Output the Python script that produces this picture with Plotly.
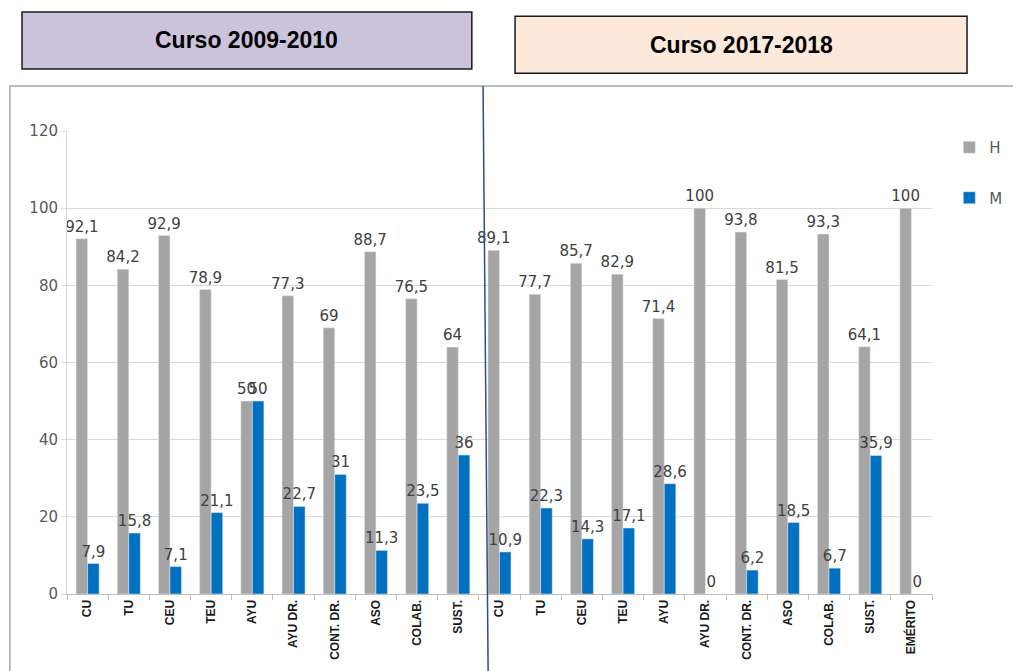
import plotly.graph_objects as go

categorias = ["CU", "TU", "CEU", "TEU", "AYU", "AYU DR.", "CONT. DR.", "ASO", "COLAB.", "SUST.",
              "CU", "TU", "CEU", "TEU", "AYU", "AYU DR.", "CONT. DR.", "ASO", "COLAB.", "SUST.", "EMÉRITO"]
hombres = [92.1, 84.2, 92.9, 78.9, 50, 77.3, 69, 88.7, 76.5, 64,
           89.1, 77.7, 85.7, 82.9, 71.4, 100, 93.8, 81.5, 93.3, 64.1, 100]
mujeres = [7.9, 15.8, 7.1, 21.1, 50, 22.7, 31, 11.3, 23.5, 36,
           10.9, 22.3, 14.3, 17.1, 28.6, 0, 6.2, 18.5, 6.7, 35.9, 0]
cursos = ["Curso 2009-2010", "Curso 2017-2018"]

posiciones = list(range(len(categorias)))


def etiqueta(v):
    return f"{v:g}".replace(".", ",")


fig = go.Figure()
fig.add_trace(go.Bar(x=posiciones, y=hombres, name="H", marker_color="#A5A5A5",
                     text=[etiqueta(v) for v in hombres], textposition="outside",
                     constraintext="none", cliponaxis=False, legendgroup="H",
                     textfont=dict(family="DejaVu Sans", size=15, color="#404040")))
fig.add_trace(go.Bar(x=posiciones, y=mujeres, name="M", marker_color="#0070C0",
                     text=[etiqueta(v) for v in mujeres], textposition="outside",
                     constraintext="none", cliponaxis=False, legendgroup="M",
                     textfont=dict(family="DejaVu Sans", size=15, color="#404040")))

# la página añade 8 px de margen, así que la figura es 8 px más pequeña
fig.update_layout(
    width=1013, height=663,
    margin=dict(l=59, r=89, t=123, b=77, autoexpand=False),
    plot_bgcolor="white", paper_bgcolor="white",
    barmode="group", bargap=0.44, bargroupgap=0,
    showlegend=True,
    legend=dict(x=1.02, y=1.0, xanchor="left", yanchor="top", tracegroupgap=28,
                font=dict(family="DejaVu Sans", size=15, color="#595959"),
                itemwidth=30),
)
fig.update_yaxes(range=[0, 120], dtick=20, showgrid=True, gridcolor="#D9D9D9", gridwidth=1,
                 showline=True, linecolor="#D9D9D9", ticks="outside", ticklen=5, tickcolor="#D9D9D9",
                 zeroline=False,
                 tickfont=dict(family="DejaVu Sans", size=15, color="#595959"))
fig.update_xaxes(range=[-0.5, len(categorias) - 0.5], tickvals=posiciones, ticktext=categorias,
                 tickangle=-90, ticks="", showgrid=False, showline=True, linecolor="#BFBFBF",
                 zeroline=False,
                 minor=dict(tickvals=[i + 0.5 for i in range(-1, len(categorias))], ticks="outside",
                            ticklen=5, tickcolor="#BFBFBF", showgrid=False),
                 tickfont=dict(family="Liberation Sans Narrow, Liberation Sans", size=12, color="#1A1A1A",
                               weight="bold"))

# marco del gráfico
fig.add_shape(type="rect", xref="paper", yref="paper", x0=-0.066, x1=1.12, y0=-0.2, y1=1.097,
              line=dict(color="#A6A6A6", width=1.5), fillcolor="rgba(0,0,0,0)", layer="below")
# línea divisoria entre cursos
fig.add_shape(type="line", xref="paper", yref="paper", x0=0.481, x1=0.487, y0=1.097, y1=-0.2,
              line=dict(color="#2F4C8F", width=1.5))

# cabeceras
cajas = [dict(x0=-0.052, x1=0.468, y0=1.134, y1=1.257, fill="#CBC3DB"),
         dict(x0=0.518, x1=1.0405, y0=1.125, y1=1.248, fill="#FDE9DA")]
for curso, caja in zip(cursos, cajas):
    fig.add_shape(type="rect", xref="paper", yref="paper", x0=caja["x0"], x1=caja["x1"],
                  y0=caja["y0"], y1=caja["y1"], fillcolor=caja["fill"],
                  line=dict(color="#1A1A1A", width=1.5))
    fig.add_annotation(xref="paper", yref="paper", x=(caja["x0"] + caja["x1"]) / 2,
                       y=(caja["y0"] + caja["y1"]) / 2, xanchor="center", yanchor="middle",
                       text=f"<b>{curso}</b>", showarrow=False,
                       font=dict(family="Liberation Sans Narrow, Liberation Sans", size=23, color="black"))

fig.write_html("out.html")
